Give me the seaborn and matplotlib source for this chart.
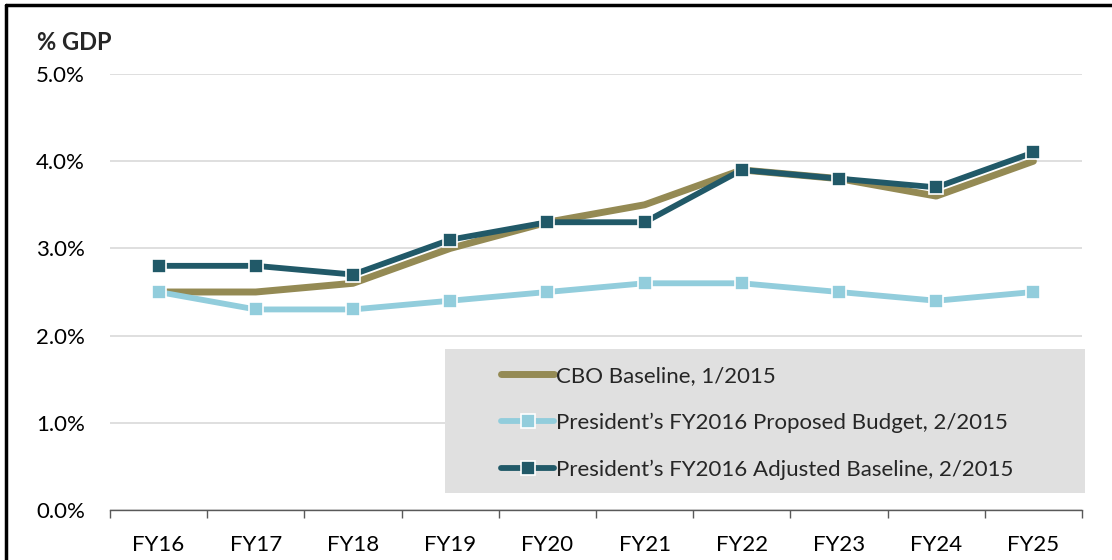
import pandas as pd
import seaborn as sns
import matplotlib.pyplot as plt
from matplotlib.lines import Line2D
from matplotlib.patches import Rectangle
from matplotlib.ticker import FuncFormatter, FixedLocator

# data (% of GDP)
years = ["FY16", "FY17", "FY18", "FY19", "FY20", "FY21", "FY22", "FY23", "FY24", "FY25"]
cbo_baseline = [2.5, 2.5, 2.6, 3.0, 3.3, 3.5, 3.9, 3.8, 3.6, 4.0]
proposed_budget = [2.5, 2.3, 2.3, 2.4, 2.5, 2.6, 2.6, 2.5, 2.4, 2.5]
adjusted_baseline = [2.8, 2.8, 2.7, 3.1, 3.3, 3.3, 3.9, 3.8, 3.7, 4.1]

labels = ["CBO Baseline, 1/2015",
          "President\u2019s FY2016 Proposed Budget, 2/2015",
          "President\u2019s FY2016 Adjusted Baseline, 2/2015"]
colors = ["#948a54", "#92cddc", "#215968"]

df = pd.DataFrame({
    "year": years * 3,
    "pos": list(range(len(years))) * 3,
    "value": cbo_baseline + proposed_budget + adjusted_baseline,
    "series": [labels[0]] * 10 + [labels[1]] * 10 + [labels[2]] * 10,
})

sns.set_style("white")
plt.rcParams['font.family'] = ['Lato', 'DejaVu Sans']
FS = 16

fig = plt.figure(figsize=(11.12, 5.6), dpi=100)
ax = fig.add_axes([110 / 1112, 1 - 510 / 560, 972 / 1112, (510 - 74) / 560])

# lines
for lab, col in zip(labels, colors):
    sub = df[df["series"] == lab]
    if lab == labels[0]:
        sns.lineplot(data=sub, x="pos", y="value", color=col, lw=5, ax=ax,
                     label=lab, zorder=3, solid_capstyle="round")
    else:
        sns.lineplot(data=sub, x="pos", y="value", color=col, lw=4.2, ax=ax,
                     marker="s", markersize=10, markeredgecolor="white",
                     markeredgewidth=1.2, label=lab, zorder=4)

ax.set_xlim(-0.5, len(years) - 0.5)
ax.set_ylim(0, 5)
ax.set_xlabel("")
ax.set_ylabel("")

ax.set_xticks(range(len(years)))
ax.set_xticklabels(years)
ax.xaxis.set_minor_locator(FixedLocator([i - 0.5 for i in range(len(years) + 1)]))
ax.tick_params(axis="x", which="major", length=0, pad=18, labelsize=FS, colors="black")
ax.tick_params(axis="x", which="minor", length=6, width=1, color="#595959", direction="out", bottom=True)
ax.set_yticks([0, 1, 2, 3, 4, 5])
ax.yaxis.set_major_formatter(FuncFormatter(lambda v, p: f"{v:.1f}%"))
ax.tick_params(axis="y", length=0, pad=18, labelsize=FS, colors="black")

ax.grid(axis="y", color="#d9d9d9", lw=1.2)
ax.grid(axis="x", visible=False)
for s in ["top", "right", "left"]:
    ax.spines[s].set_visible(False)
ax.spines["bottom"].set_color("#595959")
ax.spines["bottom"].set_linewidth(1)
ax.spines["bottom"].set_zorder(5)

# gray legend box
box = Rectangle((445 / 1112, 1 - 493 / 560), 640 / 1112, 144 / 560,
                transform=fig.transFigure, facecolor="#e0e0e0", edgecolor="none", zorder=2)
ax.add_artist(box)
box.set_clip_on(False)

handles, _ = ax.get_legend_handles_labels()
leg = ax.legend(handles, labels, loc="upper left", frameon=False,
                bbox_to_anchor=(490 / 1112, 1 - 355 / 560), bbox_transform=fig.transFigure,
                fontsize=FS, borderpad=0, handlelength=2.4, handletextpad=0.05,
                labelspacing=1.2)
leg.set_zorder(6)
for h in leg.legend_handles:
    h.set_solid_capstyle("round")

fig.text(37 / 1112, 1 - 42 / 560, "% GDP", fontsize=FS + 1, fontweight="bold", va="center")

# frame lines on top and left
fig.add_artist(Line2D([6 / 1112, 1], [1 - 5 / 560, 1 - 5 / 560], color="black", lw=2.5,
                      transform=fig.transFigure))
fig.add_artist(Line2D([6 / 1112, 6 / 1112], [0, 1 - 5 / 560], color="black", lw=2.5,
                      transform=fig.transFigure))

fig.savefig("out.png", dpi=100)
